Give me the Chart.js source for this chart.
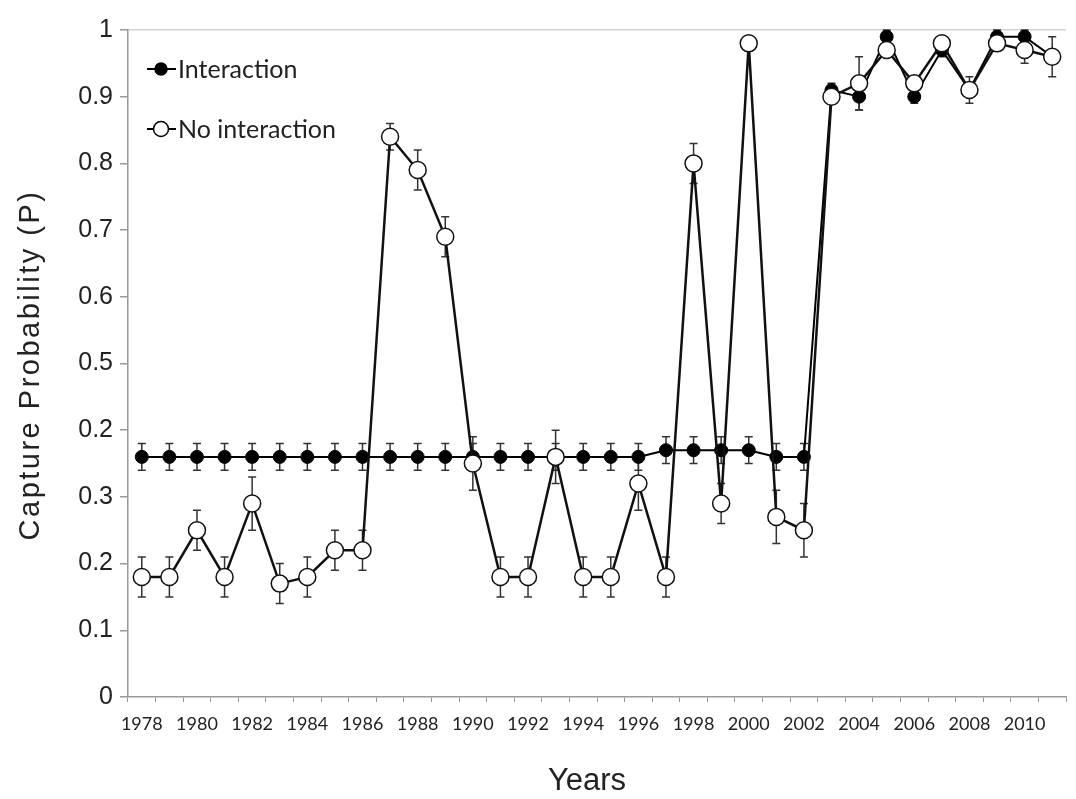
<!DOCTYPE html>
<html>
<head>
<meta charset="utf-8">
<script src="https://cdn.jsdelivr.net/npm/chart.js@4"></script>
<style>
  html, body { margin: 0; padding: 0; background: #fff; }
  canvas { display: block; }
</style>
</head>
<body>
<canvas id="captureChart" width="1076" height="799"></canvas>
<script>
// years on the x axis
const years = ['1978','1979','1980','1981','1982','1983','1984','1985','1986','1987','1988',
  '1989','1990','1991','1992','1993','1994','1995','1996','1997','1998','1999','2000',
  '2001','2002','2003','2004','2005','2006','2007','2008','2009','2010','2011'];

// capture probability, model with interaction
const interaction = [0.36,0.36,0.36,0.36,0.36,0.36,0.36,0.36,0.36,0.36,0.36,
  0.36,0.36,0.36,0.36,0.36,0.36,0.36,0.36,0.37,0.37,0.37,0.37,
  0.36,0.36,0.91,0.90,0.99,0.90,0.97,0.91,0.99,0.99,0.96];
const interactionErr = [0.02,0.02,0.02,0.02,0.02,0.02,0.02,0.02,0.02,0.02,0.02,
  0.02,0.02,0.02,0.02,0.02,0.02,0.02,0.02,0.02,0.02,0.02,0.02,
  0.02,0.02,0.01,0.02,0.01,0.01,0.01,0.01,0.01,0.01,0.01];

// capture probability, model without interaction
const noInteraction = [0.18,0.18,0.25,0.18,0.29,0.17,0.18,0.22,0.22,0.84,0.79,
  0.69,0.35,0.18,0.18,0.36,0.18,0.18,0.32,0.18,0.80,0.29,0.98,
  0.27,0.25,0.90,0.92,0.97,0.92,0.98,0.91,0.98,0.97,0.96];
const noInteractionErr = [0.03,0.03,0.03,0.03,0.04,0.03,0.03,0.03,0.03,0.02,0.03,
  0.03,0.04,0.03,0.03,0.04,0.03,0.03,0.04,0.03,0.03,0.03,0.01,
  0.04,0.04,0.01,0.04,0.01,0.01,0.01,0.02,0.01,0.02,0.03];

// y tick labels as printed in the figure (bottom to top)
const yTickLabels = ['0','0.1','0.2','0.3','0.2','0.5','0.6','0.7','0.8','0.9','1'];

const seriesNames = ['Interaction', 'No interaction'];

// error bars, drawn behind the markers
const errorBars = {
  id: 'errorBars',
  beforeDatasetsDraw(chart) {
    const ctx = chart.ctx;
    const yScale = chart.scales.y;
    ctx.save();
    ctx.strokeStyle = '#333';
    ctx.lineWidth = 1.5;
    chart.data.datasets.forEach((ds, di) => {
      const meta = chart.getDatasetMeta(di);
      meta.data.forEach((pt, i) => {
        const v = ds.data[i], e = ds.errors[i];
        const top = yScale.getPixelForValue(Math.min(v + e, 1));
        const bot = yScale.getPixelForValue(v - e);
        ctx.beginPath();
        ctx.moveTo(pt.x, top); ctx.lineTo(pt.x, bot);
        ctx.moveTo(pt.x - 4, top); ctx.lineTo(pt.x + 4, top);
        ctx.moveTo(pt.x - 4, bot); ctx.lineTo(pt.x + 4, bot);
        ctx.stroke();
      });
    });
    ctx.restore();
  }
};

// axis titles and the legend inside the plot
const decorations = {
  id: 'decorations',
  afterDraw(chart) {
    const ctx = chart.ctx;
    ctx.save();
    ctx.fillStyle = '#222';
    ctx.font = '31px "Liberation Sans", Arial, sans-serif';
    ctx.textAlign = 'center';
    ctx.textBaseline = 'middle';
    ctx.fillText('Years', 587, 781);

    ctx.translate(31, 365);
    ctx.rotate(-Math.PI / 2);
    ctx.font = '29px "Liberation Sans", Arial, sans-serif';
    ctx.letterSpacing = '2.5px';
    ctx.fillText('Capture Probability (P)', 0, 0);
    ctx.restore();

    // legend
    ctx.save();
    const rows = [
      { y: 69, fill: '#000', r: 6 },
      { y: 129, fill: '#fff', r: 7.5 }
    ];
    rows.forEach((row, i) => {
      ctx.strokeStyle = '#000';
      ctx.lineWidth = 2;
      ctx.beginPath();
      ctx.moveTo(147, row.y); ctx.lineTo(176, row.y);
      ctx.stroke();
      ctx.beginPath();
      ctx.arc(161, row.y, row.r, 0, Math.PI * 2);
      ctx.fillStyle = row.fill;
      ctx.fill();
      ctx.lineWidth = 1.5;
      ctx.stroke();
      ctx.fillStyle = '#222';
      ctx.font = '25px Lato, sans-serif';
      ctx.textAlign = 'left';
      ctx.textBaseline = 'middle';
      ctx.fillText(seriesNames[i], 178, row.y + 1);
    });
    ctx.restore();
  }
};

const whiteBg = {
  id: 'whiteBg',
  beforeDraw(chart) {
    const ctx = chart.ctx;
    ctx.save();
    ctx.fillStyle = '#fff';
    ctx.fillRect(0, 0, chart.width, chart.height);
    ctx.restore();
  }
};

const ctx = document.getElementById('captureChart').getContext('2d');
const chart = new Chart(ctx, {
  type: 'line',
  data: {
    labels: years,
    datasets: [
      {
        label: seriesNames[0],
        data: interaction,
        errors: interactionErr,
        borderColor: '#000',
        borderWidth: 2,
        pointRadius: 6.5,
        pointBackgroundColor: '#000',
        pointBorderColor: '#000',
        pointBorderWidth: 1,
        tension: 0,
        order: 1
      },
      {
        label: seriesNames[1],
        data: noInteraction,
        errors: noInteractionErr,
        borderColor: '#111',
        borderWidth: 2.5,
        pointRadius: 8.5,
        pointBackgroundColor: '#fff',
        pointBorderColor: '#111',
        pointBorderWidth: 1.5,
        tension: 0,
        order: 0
      }
    ]
  },
  options: {
    responsive: false,
    animation: false,
    layout: { padding: { left: 0, right: 0, top: 30, bottom: 0 } },
    plugins: {
      legend: { display: false },
      tooltip: { enabled: false }
    },
    scales: {
      x: {
        type: 'category',
        offset: true,
        afterFit(scale) { scale.height = 102; },
        grid: {
          offset: true,
          drawOnChartArea: false,
          tickColor: '#999',
          tickLength: 5,
          tickWidth: 1
        },
        border: { color: '#999', width: 1.5 },
        ticks: {
          autoSkip: false,
          maxRotation: 0,
          padding: 11,
          color: '#222',
          font: { family: 'Lato, sans-serif', size: 18 },
          callback(value, index) {
            return index % 2 === 0 ? years[index] : '';
          }
        }
      },
      y: {
        min: 0,
        max: 1,
        afterFit(scale) { scale.width = 128; },
        grid: {
          color(c) { return c.index === 10 ? '#d4d4d4' : 'rgba(0,0,0,0)'; },
          tickColor: '#999',
          tickLength: 8,
          lineWidth: 1.5
        },
        border: { color: '#999', width: 1.5 },
        ticks: {
          stepSize: 0.1,
          padding: 7,
          color: '#222',
          font: { family: '"Liberation Sans", Arial, sans-serif', size: 25 },
          callback(value, index) { return yTickLabels[index]; }
        }
      }
    }
  },
  plugins: [whiteBg, errorBars, decorations]
});
</script>
</body>
</html>
